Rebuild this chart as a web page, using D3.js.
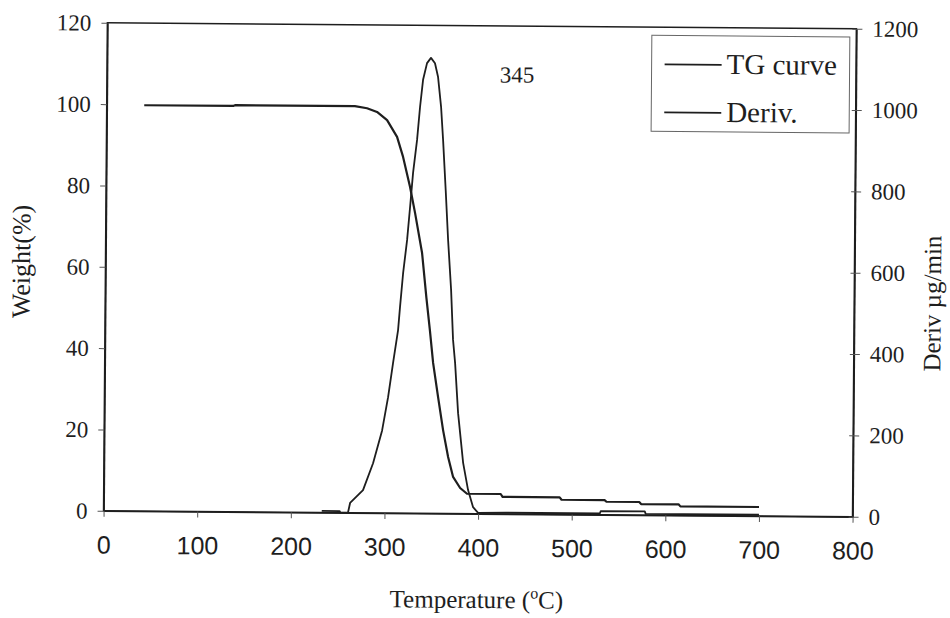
<!DOCTYPE html>
<html><head><meta charset="utf-8">
<script src="https://cdn.jsdelivr.net/npm/d3@7"></script>
<style>body{margin:0;background:#fff}svg{display:block}</style>
</head><body><svg id="c" width="950" height="618"></svg>
<script>
// ---- data ----
const tgTemp   = [40, 135, 137, 265, 278, 288.7, 299.5, 310.3, 316.9, 324.6, 330.2, 338, 343, 347, 350.7, 356.3, 361.9, 367.5, 373, 380.6, 388, 424, 426, 487, 489, 535, 537, 572, 574, 614, 616, 700];
const tgWeight = [99.8, 99.8, 100, 100, 99.5, 98.6, 96.6, 92.5, 87.6, 80.2, 73.8, 64, 53, 45, 37, 28.6, 20.5, 13.9, 9.0, 6.3, 4.9, 4.9, 4.2, 4.2, 3.6, 3.6, 3.2, 3.2, 2.7, 2.7, 2.2, 2.2];

const derivTemp  = [233, 252, 253, 261, 263.2, 276.9, 287.4, 296.8, 302.9, 307.9, 313.0, 314.9, 317.9, 321.9, 324.8, 327.7, 331.7, 334.6, 337.6, 341.7, 345.9, 350.2, 353.6, 357.1, 359.5, 362.7, 365.7, 369.3, 371.8, 374.2, 377.8, 383.6, 389.1, 394.6, 400, 430, 530, 531, 578, 579, 700];
const derivValue = [4, 4, 0, 0, 24, 56, 122, 203, 285, 369, 450, 507, 590, 672, 753, 837, 918, 999, 1066, 1107, 1120, 1107, 1073, 999, 918, 795, 672, 550, 427, 370, 247, 125, 58, 16, 2, 3, 3, 9, 9, 3, 3];

const xTickValues     = [0, 100, 200, 300, 400, 500, 600, 700, 800];
const leftTickValues  = [0, 20, 40, 60, 80, 100, 120];
const rightTickValues = [0, 200, 400, 600, 800, 1000, 1200];
const seriesNames = ["TG curve", "Deriv."];
const peakTemp = 345;
const peakValue = 1120;

// ---- layout ----
const serif = "'Liberation Serif','Times New Roman',serif";
const sans  = "'Liberation Sans',Arial,sans-serif";
const plot = {left: 105.5, right: 854.5, top: 25.75, bottom: 513.75};
const ink = "#1e1e1e";

const x  = d3.scaleLinear().domain([0, 800]).range([plot.left, plot.right]);
const yL = d3.scaleLinear().domain([0, 120]).range([plot.bottom, plot.top]);
const yR = d3.scaleLinear().domain([0, 1200]).range([plot.bottom, plot.top]);

const svg = d3.select("#c");
svg.append("rect").attr("width", 950).attr("height", 618).attr("fill", "#fff");
const g = svg.append("g").attr("transform", "rotate(0.45,480,270)");

// frame
g.append("rect")
  .attr("x", plot.left).attr("y", plot.top)
  .attr("width", plot.right - plot.left).attr("height", plot.bottom - plot.top)
  .attr("fill", "none").attr("stroke", ink).attr("stroke-width", 1.6);

// axes
const ax = g.append("g").attr("transform", `translate(0,${plot.bottom})`)
  .call(d3.axisBottom(x).tickValues(xTickValues).tickFormat(d3.format("d")).tickSize(6).tickSizeOuter(0).tickPadding(19));
const ay = g.append("g").attr("transform", `translate(${plot.left},0)`)
  .call(d3.axisLeft(yL).tickValues(leftTickValues).tickFormat(d3.format("d")).tickSize(6).tickSizeOuter(0).tickPadding(10));
const ar = g.append("g").attr("transform", `translate(${plot.right},0)`)
  .call(d3.axisRight(yR).tickValues(rightTickValues).tickFormat(d3.format("d")).tickSize(6).tickSizeOuter(0).tickPadding(10));
[ax, ay, ar].forEach(a => {
  a.select(".domain").attr("stroke", ink).attr("stroke-width", 1.6);
  a.selectAll(".tick line").attr("stroke", "#555").attr("stroke-width", 1);
  a.selectAll(".tick text").attr("fill", ink);
});
ax.selectAll(".tick text").style("font-family", sans).style("font-size", "25px");
ay.selectAll(".tick text").style("font-family", serif).style("font-size", "23px");
ar.selectAll(".tick text").style("font-family", serif).style("font-size", "23px");
ar.selectAll(".tick line").attr("x1", -4);

// curves
const tgData = tgTemp.map((t, i) => [t, tgWeight[i]]);
const dvData = derivTemp.map((t, i) => [t, derivValue[i]]);
g.append("path").datum(tgData)
  .attr("d", d3.line().x(d => x(d[0])).y(d => yL(d[1])))
  .attr("fill", "none").attr("stroke", ink).attr("stroke-width", 2.2).attr("stroke-linejoin", "round");
g.append("path").datum(dvData)
  .attr("d", d3.line().x(d => x(d[0])).y(d => yR(d[1])))
  .attr("fill", "none").attr("stroke", ink).attr("stroke-width", 1.8).attr("stroke-linejoin", "round");

// peak annotation
g.append("text").attr("x", x(peakTemp) + 87).attr("y", yR(peakValue) + 24)
  .attr("text-anchor", "middle").style("font-family", serif).style("font-size", "23px")
  .attr("fill", ink).text(peakTemp);

// legend
const lg = g.append("g");
lg.append("rect").attr("x", 650).attr("y", 34).attr("width", 198).attr("height", 96)
  .attr("fill", "#fff").attr("stroke", "#666").attr("stroke-width", 1);
seriesNames.forEach((name, i) => {
  const cy = 63 + i * 48;
  lg.append("line").attr("x1", 663).attr("x2", 720).attr("y1", cy).attr("y2", cy)
    .attr("stroke", ink).attr("stroke-width", 1.8);
  lg.append("text").attr("x", 725).attr("y", cy + 9)
    .style("font-family", serif).style("font-size", "29px").attr("fill", ink).text(name);
});

// axis titles
const xt = g.append("text").attr("x", 479).attr("y", 608).attr("text-anchor", "middle")
  .style("font-family", serif).style("font-size", "25px").attr("fill", ink);
xt.append("tspan").text("Temperature (");
xt.append("tspan").attr("dy", -10).style("font-size", "16px").text("o");
xt.append("tspan").attr("dy", 10).text("C)");

g.append("text").attr("transform", "translate(30,265) rotate(-90)").attr("text-anchor", "middle")
  .style("font-family", serif).style("font-size", "26px").attr("fill", ink).text("Weight(%)");
g.append("text").attr("transform", "translate(941,300) rotate(-90)").attr("text-anchor", "middle")
  .style("font-family", serif).style("font-size", "25px").attr("fill", ink).text("Deriv µg/min");
</script></body></html>
